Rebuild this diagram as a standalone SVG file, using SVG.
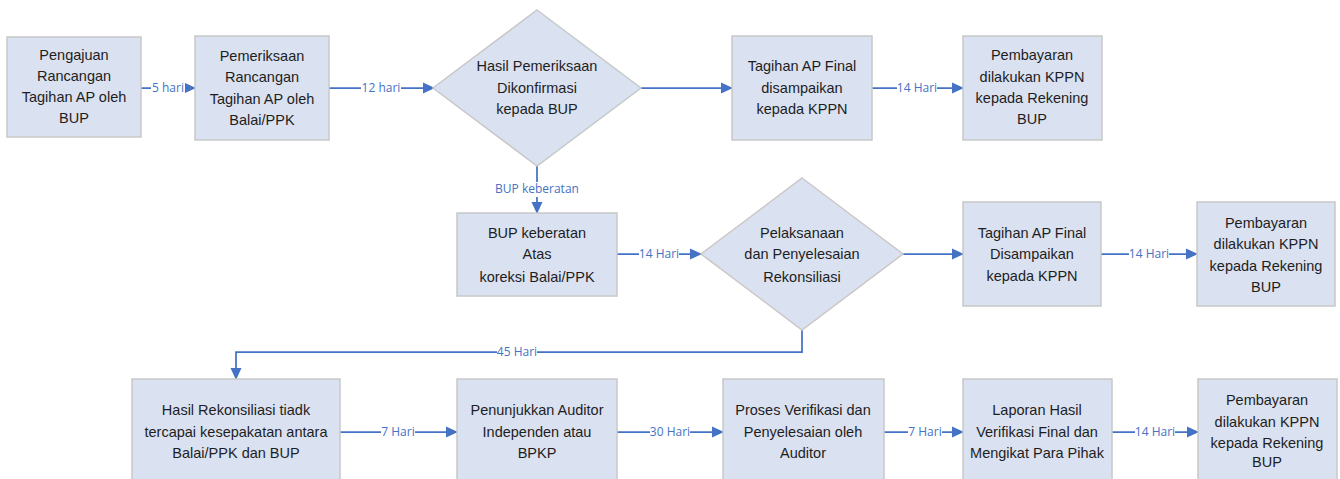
<svg xmlns="http://www.w3.org/2000/svg" width="1340" height="479" viewBox="0 0 1340 479">
  <defs>
    <marker id="arrow" markerUnits="userSpaceOnUse" markerWidth="12" markerHeight="12" viewBox="0 0 12 12" refX="11" refY="6" orient="auto">
      <path d="M0,0.5 L12,6 L0,11.5 Z" fill="#4472C4"/>
    </marker>
    <style>
      .box { fill: #DAE1F1; stroke: #C8C8C8; stroke-width: 1.5; }
      .txt { font-family: "Liberation Sans", Arial, sans-serif; font-size: 14.5px; fill: #1E1E1E; text-anchor: middle; }
      .conn { fill: none; stroke: #4472C4; stroke-width: 1.75; }
      .bg { fill: #FFFFFF; }
      .lbl { font-family: "Open Sans", "Liberation Sans", sans-serif; font-size: 12px; fill: #4472C4; text-anchor: middle; }
    </style>
  </defs>

  <rect width="1340" height="479" fill="#FFFFFF"/>

  <!-- connectors with their duration labels -->
  <g id="connectors">
    <path class="conn" d="M141,88 H195" marker-end="url(#arrow)"/>
    <path class="conn" d="M329,88 H434" marker-end="url(#arrow)"/>
    <path class="conn" d="M641,88 H732" marker-end="url(#arrow)"/>
    <path class="conn" d="M872,88 H963" marker-end="url(#arrow)"/>
    <path class="conn" d="M537,166 V213" marker-end="url(#arrow)"/>
    <path class="conn" d="M617,254 H701" marker-end="url(#arrow)"/>
    <path class="conn" d="M903,254 H963" marker-end="url(#arrow)"/>
    <path class="conn" d="M1101,254 H1197" marker-end="url(#arrow)"/>
    <path class="conn" d="M802,330 V352 H236 V379" marker-end="url(#arrow)"/>
    <path class="conn" d="M340,432 H457" marker-end="url(#arrow)"/>
    <path class="conn" d="M617,432 H723" marker-end="url(#arrow)"/>
    <path class="conn" d="M884,432 H963" marker-end="url(#arrow)"/>
    <path class="conn" d="M1112,432 H1198" marker-end="url(#arrow)"/>

    <rect class="bg" x="151" y="81" width="34" height="14"/>
    <text class="lbl" x="168" y="92">5 hari</text>
    <rect class="bg" x="361" y="81" width="40" height="14"/>
    <text class="lbl" x="381" y="92">12 hari</text>
    <rect class="bg" x="897" y="81" width="40" height="14"/>
    <text class="lbl" x="917" y="92">14 Hari</text>
    <rect class="bg" x="494" y="182" width="86" height="15"/>
    <text class="lbl" x="537" y="193">BUP keberatan</text>
    <rect class="bg" x="639" y="247" width="40" height="14"/>
    <text class="lbl" x="659" y="258">14 Hari</text>
    <rect class="bg" x="1129" y="247" width="40" height="14"/>
    <text class="lbl" x="1149" y="258">14 Hari</text>
    <rect class="bg" x="497" y="345" width="40" height="14"/>
    <text class="lbl" x="517" y="356">45 Hari</text>
    <rect class="bg" x="381" y="425" width="34" height="14"/>
    <text class="lbl" x="398" y="436">7 Hari</text>
    <rect class="bg" x="650" y="425" width="40" height="14"/>
    <text class="lbl" x="670" y="436">30 Hari</text>
    <rect class="bg" x="908" y="425" width="34" height="14"/>
    <text class="lbl" x="925" y="436">7 Hari</text>
    <rect class="bg" x="1135" y="425" width="40" height="14"/>
    <text class="lbl" x="1155" y="436">14 Hari</text>
  </g>

  <!-- row 1 -->
  <g id="n1">
    <rect class="box" x="7" y="37" width="134" height="100"/>
    <text class="txt" x="74" y="60">Pengajuan</text>
    <text class="txt" x="74" y="81">Rancangan</text>
    <text class="txt" x="74" y="102">Tagihan AP oleh</text>
    <text class="txt" x="74" y="123">BUP</text>
  </g>
  <g id="n2">
    <rect class="box" x="195" y="36" width="134" height="104"/>
    <text class="txt" x="262" y="61">Pemeriksaan</text>
    <text class="txt" x="262" y="82">Rancangan</text>
    <text class="txt" x="262" y="104">Tagihan AP oleh</text>
    <text class="txt" x="262" y="125">Balai/PPK</text>
  </g>
  <g id="n3">
    <polygon class="box" points="537,10 641,88 537,166 433,88"/>
    <text class="txt" x="537" y="71">Hasil Pemeriksaan</text>
    <text class="txt" x="537" y="93">Dikonfirmasi</text>
    <text class="txt" x="537" y="114">kepada BUP</text>
  </g>
  <g id="n4">
    <rect class="box" x="732" y="36" width="140" height="104"/>
    <text class="txt" x="802" y="71">Tagihan AP Final</text>
    <text class="txt" x="802" y="93">disampaikan</text>
    <text class="txt" x="802" y="114">kepada KPPN</text>
  </g>
  <g id="n5">
    <rect class="box" x="963" y="36" width="139" height="104"/>
    <text class="txt" x="1032" y="60">Pembayaran</text>
    <text class="txt" x="1032" y="82">dilakukan KPPN</text>
    <text class="txt" x="1032" y="103">kepada Rekening</text>
    <text class="txt" x="1032" y="124">BUP</text>
  </g>

  <!-- row 2 -->
  <g id="n6">
    <rect class="box" x="457" y="213" width="160" height="83"/>
    <text class="txt" x="537" y="238">BUP keberatan</text>
    <text class="txt" x="537" y="259">Atas</text>
    <text class="txt" x="537" y="282">koreksi Balai/PPK</text>
  </g>
  <g id="n7">
    <polygon class="box" points="802,178 903,254 802,330 701,254"/>
    <text class="txt" x="802" y="238">Pelaksanaan</text>
    <text class="txt" x="802" y="259">dan Penyelesaian</text>
    <text class="txt" x="802" y="282">Rekonsiliasi</text>
  </g>
  <g id="n8">
    <rect class="box" x="963" y="202" width="138" height="104"/>
    <text class="txt" x="1032" y="238">Tagihan AP Final</text>
    <text class="txt" x="1032" y="259">Disampaikan</text>
    <text class="txt" x="1032" y="281">kepada KPPN</text>
  </g>
  <g id="n9">
    <rect class="box" x="1197" y="202" width="138" height="104"/>
    <text class="txt" x="1266" y="228">Pembayaran</text>
    <text class="txt" x="1266" y="249">dilakukan KPPN</text>
    <text class="txt" x="1266" y="271">kepada Rekening</text>
    <text class="txt" x="1266" y="292">BUP</text>
  </g>

  <!-- row 3 -->
  <g id="n10">
    <rect class="box" x="132" y="379" width="208" height="106"/>
    <text class="txt" x="236" y="415">Hasil Rekonsiliasi tiadk</text>
    <text class="txt" x="236" y="437">tercapai kesepakatan antara</text>
    <text class="txt" x="236" y="458">Balai/PPK dan BUP</text>
  </g>
  <g id="n11">
    <rect class="box" x="457" y="379" width="160" height="106"/>
    <text class="txt" x="537" y="415">Penunjukkan Auditor</text>
    <text class="txt" x="537" y="437">Independen atau</text>
    <text class="txt" x="537" y="458">BPKP</text>
  </g>
  <g id="n12">
    <rect class="box" x="723" y="379" width="161" height="106"/>
    <text class="txt" x="803" y="415">Proses Verifikasi dan</text>
    <text class="txt" x="803" y="437">Penyelesaian oleh</text>
    <text class="txt" x="803" y="458">Auditor</text>
  </g>
  <g id="n13">
    <rect class="box" x="963" y="379" width="149" height="106"/>
    <text class="txt" x="1037" y="415">Laporan Hasil</text>
    <text class="txt" x="1037" y="437">Verifikasi Final dan</text>
    <text class="txt" x="1037" y="458">Mengikat Para Pihak</text>
  </g>
  <g id="n14">
    <rect class="box" x="1198" y="379" width="139" height="106"/>
    <text class="txt" x="1267" y="405">Pembayaran</text>
    <text class="txt" x="1267" y="427">dilakukan KPPN</text>
    <text class="txt" x="1267" y="448">kepada Rekening</text>
    <text class="txt" x="1267" y="467">BUP</text>
  </g>
</svg>
